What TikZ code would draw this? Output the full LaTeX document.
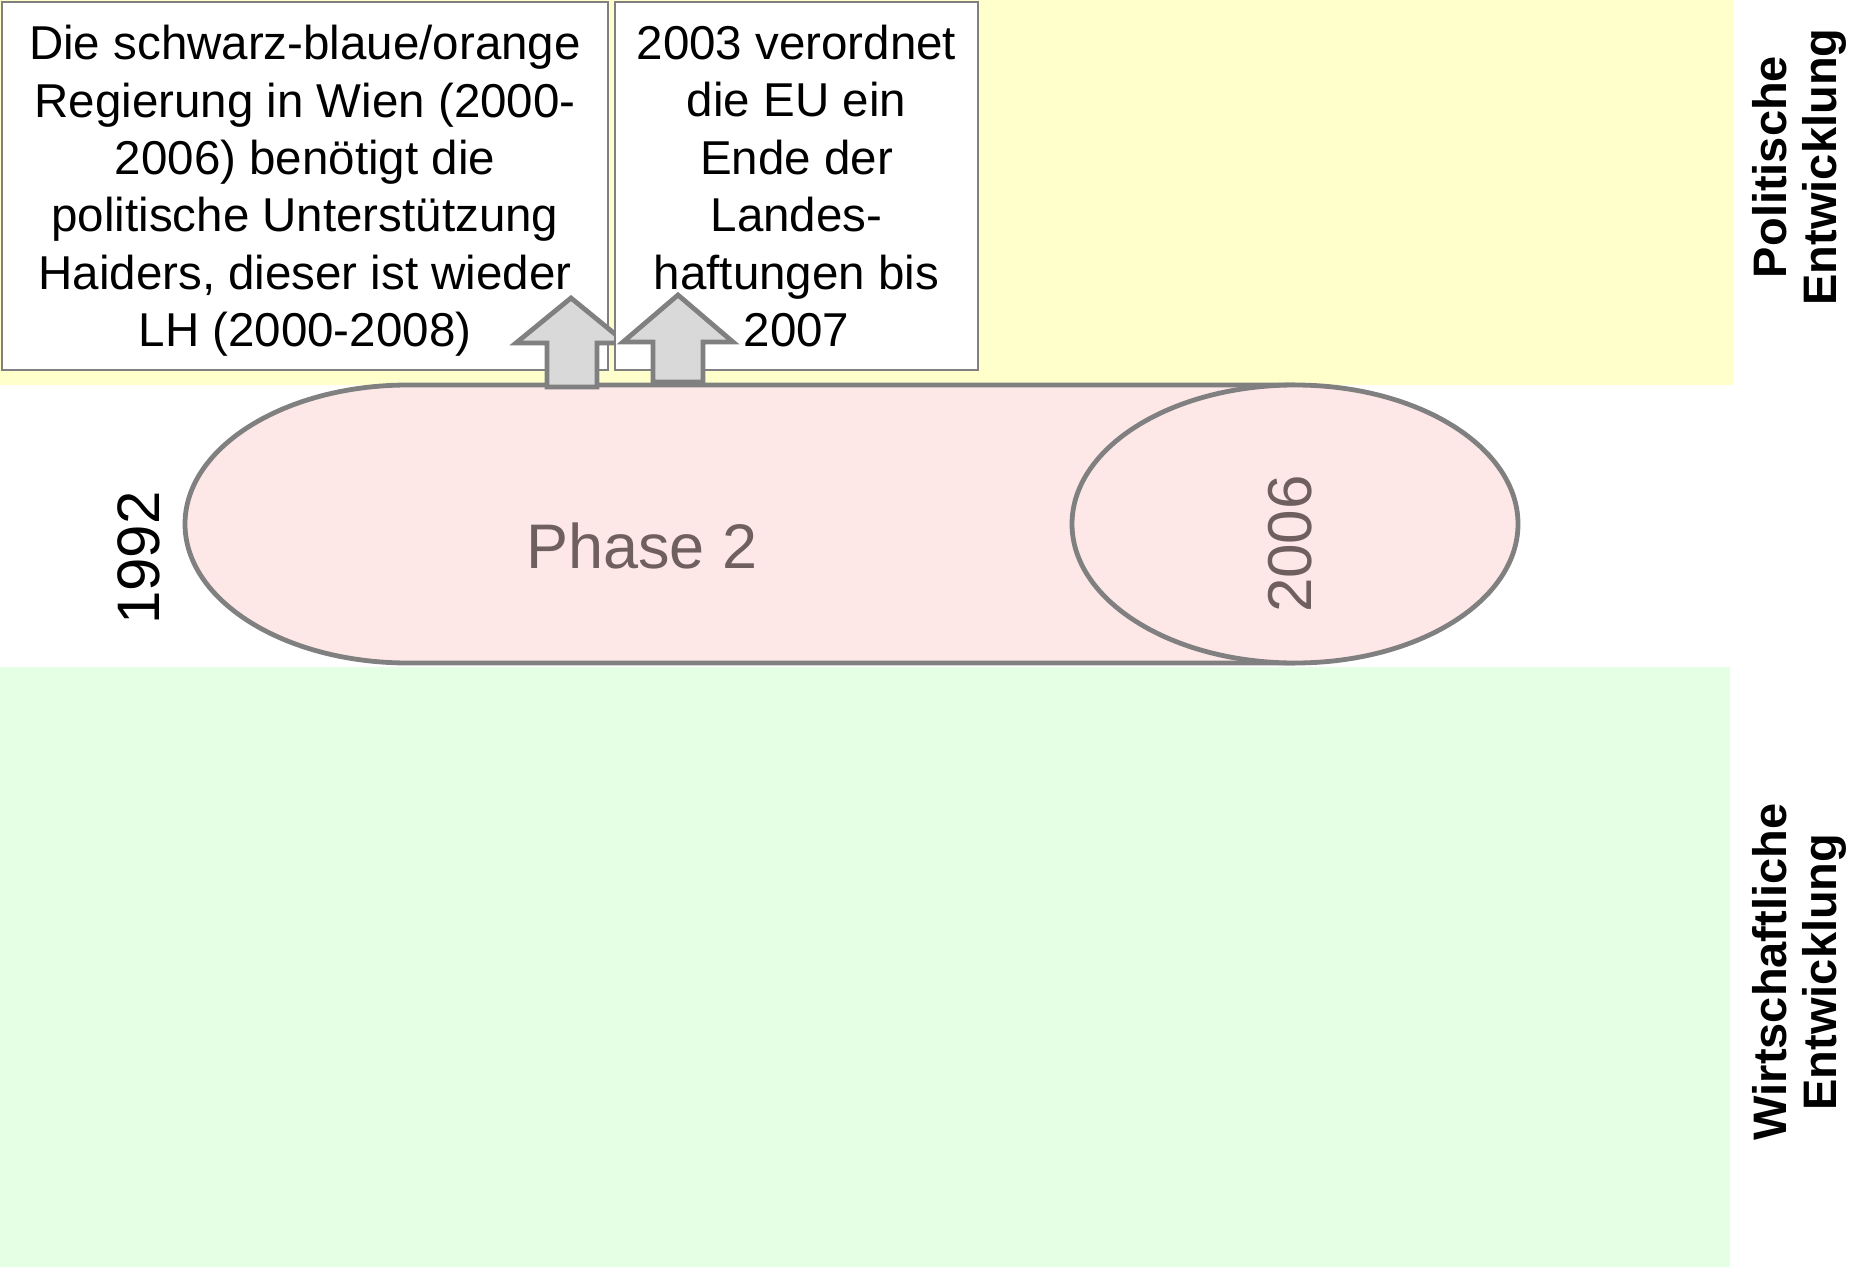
\documentclass[tikz,border=0pt]{standalone}
\usepackage{fontspec}
\setmainfont{Liberation Sans}
\usetikzlibrary{shapes.geometric}
\definecolor{polband}{HTML}{FFFFCC}
\definecolor{econband}{HTML}{E5FFE5}
\definecolor{phasefill}{HTML}{FDE7E7}
\definecolor{edgegray}{HTML}{808080}
\definecolor{phasetext}{HTML}{6F5F5F}
\definecolor{arrowfill}{HTML}{D9D9D9}

\begin{document}
\begin{tikzpicture}[x=0.5pt,y=-0.5pt,
  notebox/.style={draw=edgegray, line width=0.75pt, fill=white, inner sep=0pt},
  notetext/.style={inner sep=0pt, align=center, font=\fontsize{23.75}{28.7}\selectfont},
  phaseline/.style={draw=edgegray, line width=2.4pt},
  uparrow/.style={draw=edgegray, line width=2.4pt, fill=arrowfill, line join=miter},
  sidelabel/.style={rotate=90, align=center, inner sep=0pt,
    font=\bfseries\fontsize{23.5}{25}\selectfont},
  yearlabel/.style={rotate=90, inner sep=0pt, font=\fontsize{30}{36}\selectfont}]
\useasboundingbox (0,0) rectangle (1855,1267);
\fill[white] (0,0) rectangle (1855,1267);

% background bands
\fill[polband] (0,0) rectangle (1733,385);
\fill[econband] (0,667) rectangle (1730,1267);

% phase cylinder
\fill[phasefill] (1295,385) -- (408,385)
  arc[start angle=270, end angle=90, x radius=223, y radius=139] -- (1295,663) -- cycle;
\draw[phaseline] (1295,385) -- (408,385)
  arc[start angle=270, end angle=90, x radius=223, y radius=139] -- (1295,663);
\node[ellipse, phaseline, fill=phasefill, inner sep=0pt,
  minimum width=223pt, minimum height=139pt] (endcap) at (1295,524) {};

% event boxes with their arrows
\node[notebox, minimum width=303pt, minimum height=184pt] (govbox) at (305,186) {};
\node[notetext] (govtext) at ([yshift=-2.5pt]govbox.center)
  {Die schwarz-blaue/orange\\Regierung in Wien (2000-\\2006) benötigt die\\politische Unterstützung\\Haiders, dieser ist wieder\\LH (2000-2008)};
\draw[uparrow] (547,387) -- (547,343) -- (516,343) -- (571,298) -- (626,343)
  -- (597,343) -- (597,387) -- cycle;
\node[notebox, minimum width=181.5pt, minimum height=184pt] (eubox) at (796.5,186) {};
\node[notetext] (eutext) at (eubox.center)
  {2003 verordnet\\die EU ein\\Ende der\\Landes-\\haftungen bis\\2007};
\draw[uparrow] (653,382) -- (653,342) -- (623,342) -- (678,295) -- (733,342)
  -- (703,342) -- (703,382) -- cycle;

% labels
\node[yearlabel] (startyear) at (139,558) {1992};
\node[yearlabel, text=phasetext, font=\fontsize{31}{37}\selectfont] (endyear) at (1290,544) {2006};
\node[anchor=base, inner sep=0pt, text=phasetext, font=\fontsize{31.5}{38}\selectfont]
  (phase) at (642,568) {Phase 2};
\node[sidelabel] (pollabel) at (1799,167) {Politische\\Entwicklung};
\node[sidelabel] (ecolabel) at (1799,972) {Wirtschaftliche\\Entwicklung};
\end{tikzpicture}
\end{document}
